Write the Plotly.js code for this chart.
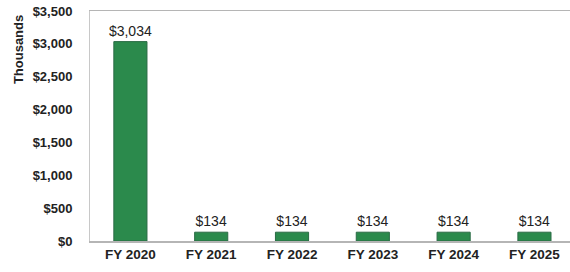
<!DOCTYPE html>
<html><head><meta charset="utf-8">
<script src="https://cdn.plot.ly/plotly-3.0.1.min.js"></script>
<style>html,body{margin:0;padding:0;background:#fff}#c{width:570px;height:272px}</style>
</head><body><div id="c"></div>
<script>
const categories = ["FY 2020","FY 2021","FY 2022","FY 2023","FY 2024","FY 2025"];
const values = [3034, 134, 134, 134, 134, 134];
const yTickVals = [0,500,1000,1500,2000,2500,3000,3500];
const yTickText = ["$0","$500","$1,000","$1,500","$2,000","$2,500","$3,000","$3,500"];

const font = "Liberation Sans, Arial, sans-serif";
Plotly.newPlot("c", [{
  type: "bar",
  x: categories,
  y: values,
  width: 0.41,
  marker: {color: "#2b8a4c", line: {color: "#2a6b45", width: 1}},
  text: values.map(v => "$" + v.toLocaleString("en-US")),
  textposition: "outside",
  constraintext: "none",
  textfont: {family: font, size: 14, color: "#222"},
  cliponaxis: false,
  hoverinfo: "none"
}], {
  width: 570, height: 272,
  margin: {l: 90, r: 0, t: 11, b: 31, pad: 0},
  paper_bgcolor: "#fff", plot_bgcolor: "#fff",
  showlegend: false,
  xaxis: {
    range: [-0.5, 5.44],
    showline: true, linecolor: "#b5b5b5", linewidth: 1.5, mirror: true,
    ticks: "", showgrid: false, zeroline: false,
    tickfont: {family: font, size: 13.5, color: "#222", weight: "bold"}
  },
  yaxis: {
    range: [0, 3500],
    tickvals: yTickVals, ticktext: yTickText,
    showline: true, linecolor: "#c8c8c8", linewidth: 1,
    showgrid: false, zeroline: false, ticks: "",
    ticklabelstandoff: 14,
    tickfont: {family: font, size: 13, color: "#222", weight: "bold"}
  },
  annotations: [{
    text: "Thousands", textangle: -90, showarrow: false,
    xref: "paper", yref: "paper", x: -0.15, y: 0.83,
    xanchor: "center", yanchor: "middle",
    font: {family: font, size: 13, color: "#222", weight: "bold"}
  }]
}, {staticPlot: true, displayModeBar: false});
</script></body></html>
